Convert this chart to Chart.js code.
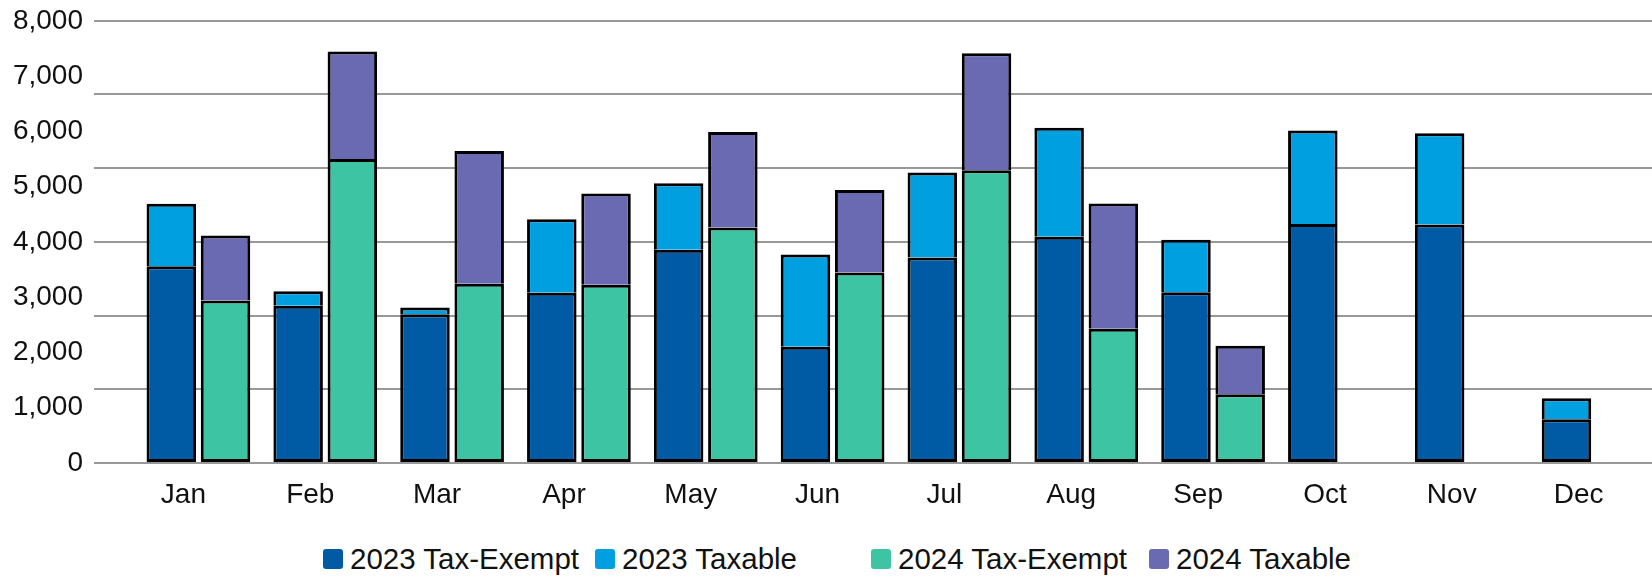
<!DOCTYPE html>
<html>
<head>
<meta charset="utf-8">
<script src="https://cdn.jsdelivr.net/npm/chart.js@4.4.1/dist/chart.umd.min.js"></script>
<style>
    html, body { margin: 0; padding: 0; background: #fff; overflow: hidden; }
    body { width: 1652px; height: 576px; position: relative; }
    #volumeChart { position: absolute; left: 0; top: -7px; }
    #legend {
        position: absolute; left: 323px; top: 544px;
        display: flex; align-items: center;
        font-family: "Liberation Sans", Arial, sans-serif; font-size: 29.5px; line-height: 29px; color: #111;
    }
    .item { display: flex; align-items: center; margin-right: 16px; white-space: pre; }
    .item.group-end { margin-right: 74px; }
    .item.wide { margin-right: 22px; }
    .swatch { width: 20px; height: 20px; border-radius: 3px; margin-right: 7px; }
</style>
</head>
<body>
<canvas id="volumeChart" width="1657" height="532"></canvas>
<div id="legend"></div>
<script>
// Monthly volume, stacked by tax status, 2023 vs 2024
const months = ['Jan', 'Feb', 'Mar', 'Apr', 'May', 'Jun', 'Jul', 'Aug', 'Sep', 'Oct', 'Nov', 'Dec'];

const exempt2023  = [3560, 2845, 2690, 3080, 3860, 2105, 3720, 4095, 3090, 4325, 4315, 790];
const taxable2023 = [1130, 260, 125, 1330, 1200, 1665, 1535, 1970, 950, 1690, 1650, 380];
const exempt2024  = [2940, 5500, 3245, 3225, 4260, 3445, 5295, 2430, 1245, null, null, null];
const taxable2024 = [1175, 1945, 2400, 1650, 1730, 1495, 2120, 2265, 875, null, null, null];

// labelled ticks and the (coarser) horizontal gridlines
const labelTicks = [0, 1000, 2000, 3000, 4000, 5000, 6000, 7000, 8000];
const gridTicks = [0, 1333.33, 2666.67, 4000, 5333.33, 6666.67, 8000];

const colors = {
    exempt2023: '#005BA4',
    taxable2023: '#00A0E0',
    exempt2024: '#3DC4A3',
    taxable2024: '#696AB2'
};

const onGrid = (v) => gridTicks.some(g => Math.abs(g - v) < 1);
const barStyle = { borderColor: '#000', borderWidth: 3, barPercentage: 0.913, categoryPercentage: 0.855 };

const ctx = document.getElementById('volumeChart').getContext('2d');
const volumeChart = new Chart(ctx, {
    type: 'bar',
    data: {
        labels: months,
        datasets: [
            { label: '2023 Tax-Exempt', data: exempt2023, stack: '2023', backgroundColor: colors.exempt2023, borderSkipped: false, ...barStyle },
            { label: '2023 Taxable', data: taxable2023, stack: '2023', backgroundColor: colors.taxable2023, borderSkipped: 'start', ...barStyle },
            { label: '2024 Tax-Exempt', data: exempt2024, stack: '2024', backgroundColor: colors.exempt2024, borderSkipped: false, ...barStyle },
            { label: '2024 Taxable', data: taxable2024, stack: '2024', backgroundColor: colors.taxable2024, borderSkipped: 'start', ...barStyle }
        ]
    },
    options: {
        responsive: false,
        animation: false,
        layout: { padding: 0 },
        plugins: {
            legend: { display: false },
            tooltip: { enabled: false }
        },
        scales: {
            x: {
                stacked: true,
                grid: { display: false, drawTicks: false },
                border: { display: false },
                ticks: {
                    color: '#111',
                    padding: 15,
                    labelOffset: -15,
                    font: { family: '"Liberation Sans", Arial, sans-serif', size: 28 }
                },
                afterFit: (scale) => { scale.height = 62; }
            },
            y: {
                stacked: true,
                min: 0,
                max: 8000,
                afterBuildTicks: (scale) => {
                    const values = [...new Set([...labelTicks, ...gridTicks])].sort((a, b) => a - b);
                    scale.ticks = values.map(v => ({ value: v }));
                },
                afterFit: (scale) => { scale.width = 135; },
                grid: {
                    lineWidth: 2,
                    tickLength: 41,
                    color: (c) => (c.tick && onGrid(c.tick.value)) ? '#989898' : 'rgba(0,0,0,0)'
                },
                border: { display: false },
                ticks: {
                    autoSkip: false,
                    padding: 11,
                    color: '#111',
                    font: { family: '"Liberation Sans", Arial, sans-serif', size: 28 },
                    callback: (value) => labelTicks.includes(value) ? value.toLocaleString('en-US') : ''
                }
            }
        }
    }
});

// legend built from the datasets, with a wider gap between the two years
const legendEl = document.getElementById('legend');
volumeChart.data.datasets.forEach((ds, i) => {
    const item = document.createElement('div');
    item.className = 'item' + (i === 1 ? ' group-end' : '') + (i === 2 ? ' wide' : '');
    const swatch = document.createElement('span');
    swatch.className = 'swatch';
    swatch.style.background = ds.backgroundColor;
    item.appendChild(swatch);
    item.appendChild(document.createTextNode(ds.label));
    legendEl.appendChild(item);
});
</script>
</body>
</html>
